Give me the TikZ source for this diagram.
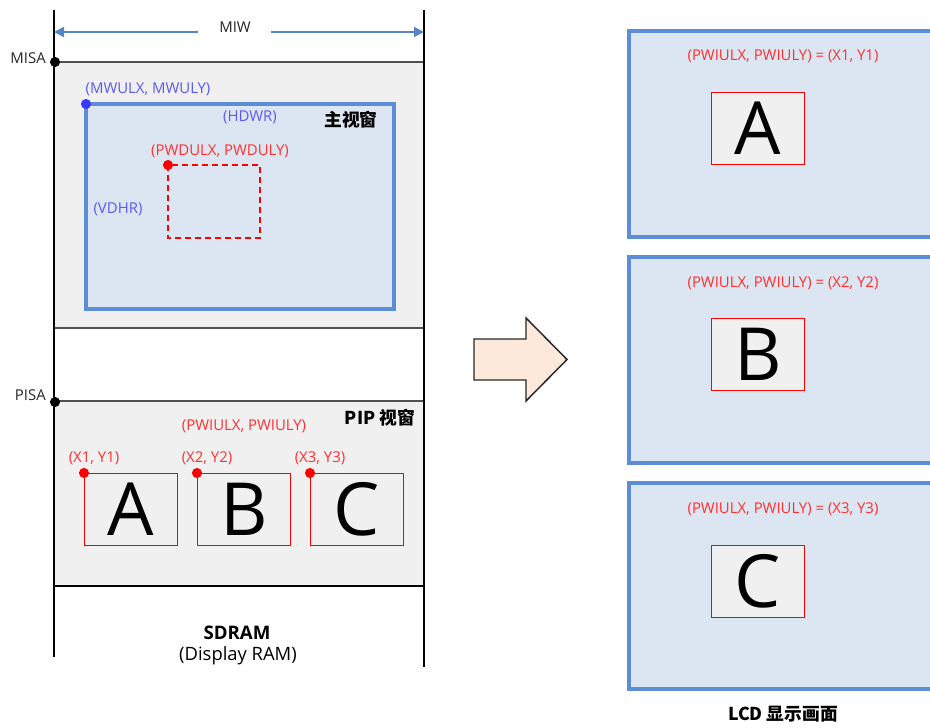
\documentclass[tikz,border=0pt]{standalone}
\usepackage{fontspec}
\setmainfont{Open Sans}
\newfontfamily\cjk{Noto Sans CJK SC}
\usetikzlibrary{arrows.meta}
\definecolor{grayfill}{HTML}{F0F0F0}
\definecolor{winfill}{HTML}{DCE6F2}
\definecolor{winblue}{HTML}{5B8ED6}
\definecolor{txtred}{HTML}{FF3030}
\definecolor{dotred}{HTML}{FF0000}
\definecolor{txtblue}{HTML}{5A5AF0}
\definecolor{dotblue}{HTML}{3838FF}
\definecolor{arrowfill}{HTML}{FDE9DA}
\definecolor{dimblue}{HTML}{5585C5}
\definecolor{hgray}{HTML}{505050}
\tikzset{
  lbl/.style={font=\fontsize{11.2}{13}\selectfont, inner sep=0},
  redlbl/.style={lbl, text=txtred},
  bluelbl/.style={lbl, text=txtblue},
  blacklbl/.style={lbl, text=black!85},
  cjkhead/.style={font=\cjk\bfseries\fontsize{13.3}{15}\selectfont, inner sep=0},
  bigletter/.style={font=\fontsize{55}{55}\selectfont},
  pipbox/.style={draw=dotred, line width=0.75pt, inner sep=0, anchor=north west,
    minimum width=69.75pt, minimum height=54pt, bigletter},
  lcdimg/.style={pipbox, fill=grayfill},
  winrect/.style={fill=winfill, draw=winblue, line width=2.3pt},
  vline/.style={draw=black, line width=1.5pt},
  hline/.style={draw=hgray, line width=1.3pt},
  dimarrow/.style={draw=dimblue, line width=1.5pt, -{Triangle[length=7.5pt,width=7.5pt]}},
}
\begin{document}
\begin{tikzpicture}[x=0.75pt,y=-0.75pt]
\path[use as bounding box] (0,0) rectangle (930,727);
\clip (0,0) rectangle (930,727);

% ---------- SDRAM column ----------
\fill[grayfill] (54,62) rectangle (424,328);
\fill[grayfill] (54,401) rectangle (424,586);
\draw[hline] (54,62) -- (424,62);
\draw[hline] (54,328) -- (424,328);
\draw[hline] (54,401) -- (424,401);
\draw[black, line width=1.1pt] (54,586) -- (424,586);
\draw[vline] (54,10) -- (54,657);
\draw[vline] (424,10) -- (424,667);

% MIW dimension
\node[blacklbl] (miw) at (235,27) {MIW};
\coordinate (miwL) at (198,32);
\coordinate (miwR) at (271,32);
\coordinate (leftedge) at (54,32);
\coordinate (rightedge) at (424,32);
\draw[dimarrow] (miwL) -- (leftedge);
\draw[dimarrow] (miwR) -- (rightedge);

% MISA / PISA
\coordinate (misa) at (55,62);
\coordinate (pisa) at (55,402);
\fill[black] (misa) circle (3.8pt);
\fill[black] (pisa) circle (3.8pt);
\node[blacklbl, anchor=east] (misalbl) at (46,58) {MISA};
\node[blacklbl, anchor=east] (pisalbl) at (46,395) {PISA};

% main window
\draw[winrect] (86,104) rectangle (394,309);
\coordinate (mwul) at (86,104);
\fill[dotblue] (mwul) circle (3.8pt);
\node[bluelbl] (mwlbl) at (148,89) {(MWULX, MWULY)};
\node[bluelbl] (hdwr) at (250,117) {(HDWR)};
\node[bluelbl] (vdhr) at (118,209) {(VDHR)};
\node[cjkhead] (mainwin) at (351,120) {主视窗};

% PWD dashed window
\draw[dotred, line width=1.5pt, dash pattern=on 4.5pt off 3pt] (168,165) rectangle (260,238);
\coordinate (pwdul) at (168,165);
\fill[dotred] (pwdul) circle (3.8pt);
\node[redlbl] (pwdlbl) at (220,151) {(PWDULX, PWDULY)};

% PIP window
\node[cjkhead] (pipwin) at (380,418) {PIP 视窗};
\node[redlbl] (pwilbl) at (244,426) {(PWIULX, PWIULY)};
\node[pipbox] (pipA) at (84,473) {A};
\node[pipbox] (pipB) at (197,473) {B};
\node[pipbox] (pipC) at (310,473) {C};
\fill[dotred] (pipA.north west) circle (3.8pt);
\fill[dotred] (pipB.north west) circle (3.8pt);
\fill[dotred] (pipC.north west) circle (3.8pt);
\node[redlbl] (x1) at (94,458) {(X1, Y1)};
\node[redlbl] (x2) at (207,458) {(X2, Y2)};
\node[redlbl] (x3) at (320,458) {(X3, Y3)};

% SDRAM caption
\node[font=\bfseries\fontsize{14}{16}\selectfont, inner sep=0] (sdram) at (237,633) {SDRAM};
\node[font=\fontsize{13.8}{16}\selectfont, inner sep=0] (dram) at (238,656) {(Display RAM)};

% ---------- block arrow ----------
\draw[fill=arrowfill, draw=black!85, line width=1.1pt, line join=miter]
  (474,339) -- (526,339) -- (526,318) -- (567,359.5) -- (526,401) -- (526,380) -- (474,380) -- cycle;

% ---------- LCD screens ----------
\draw[winrect] (629,31) rectangle (960,237);
\draw[winrect] (629,257) rectangle (960,463);
\draw[winrect] (629,483) rectangle (960,689);
\node[redlbl] (l1) at (783,56.5) {(PWIULX, PWIULY) = (X1, Y1)};
\node[redlbl] (l2) at (783,283) {(PWIULX, PWIULY) = (X2, Y2)};
\node[redlbl] (l3) at (783,509) {(PWIULX, PWIULY) = (X3, Y3)};
\node[lcdimg] (lcdA) at (711,92) {A};
\node[lcdimg] (lcdB) at (711,318) {B};
\node[lcdimg] (lcdC) at (711,545) {C};
\node[cjkhead] (lcd) at (783,714) {LCD 显示画面};
\end{tikzpicture}
\end{document}
